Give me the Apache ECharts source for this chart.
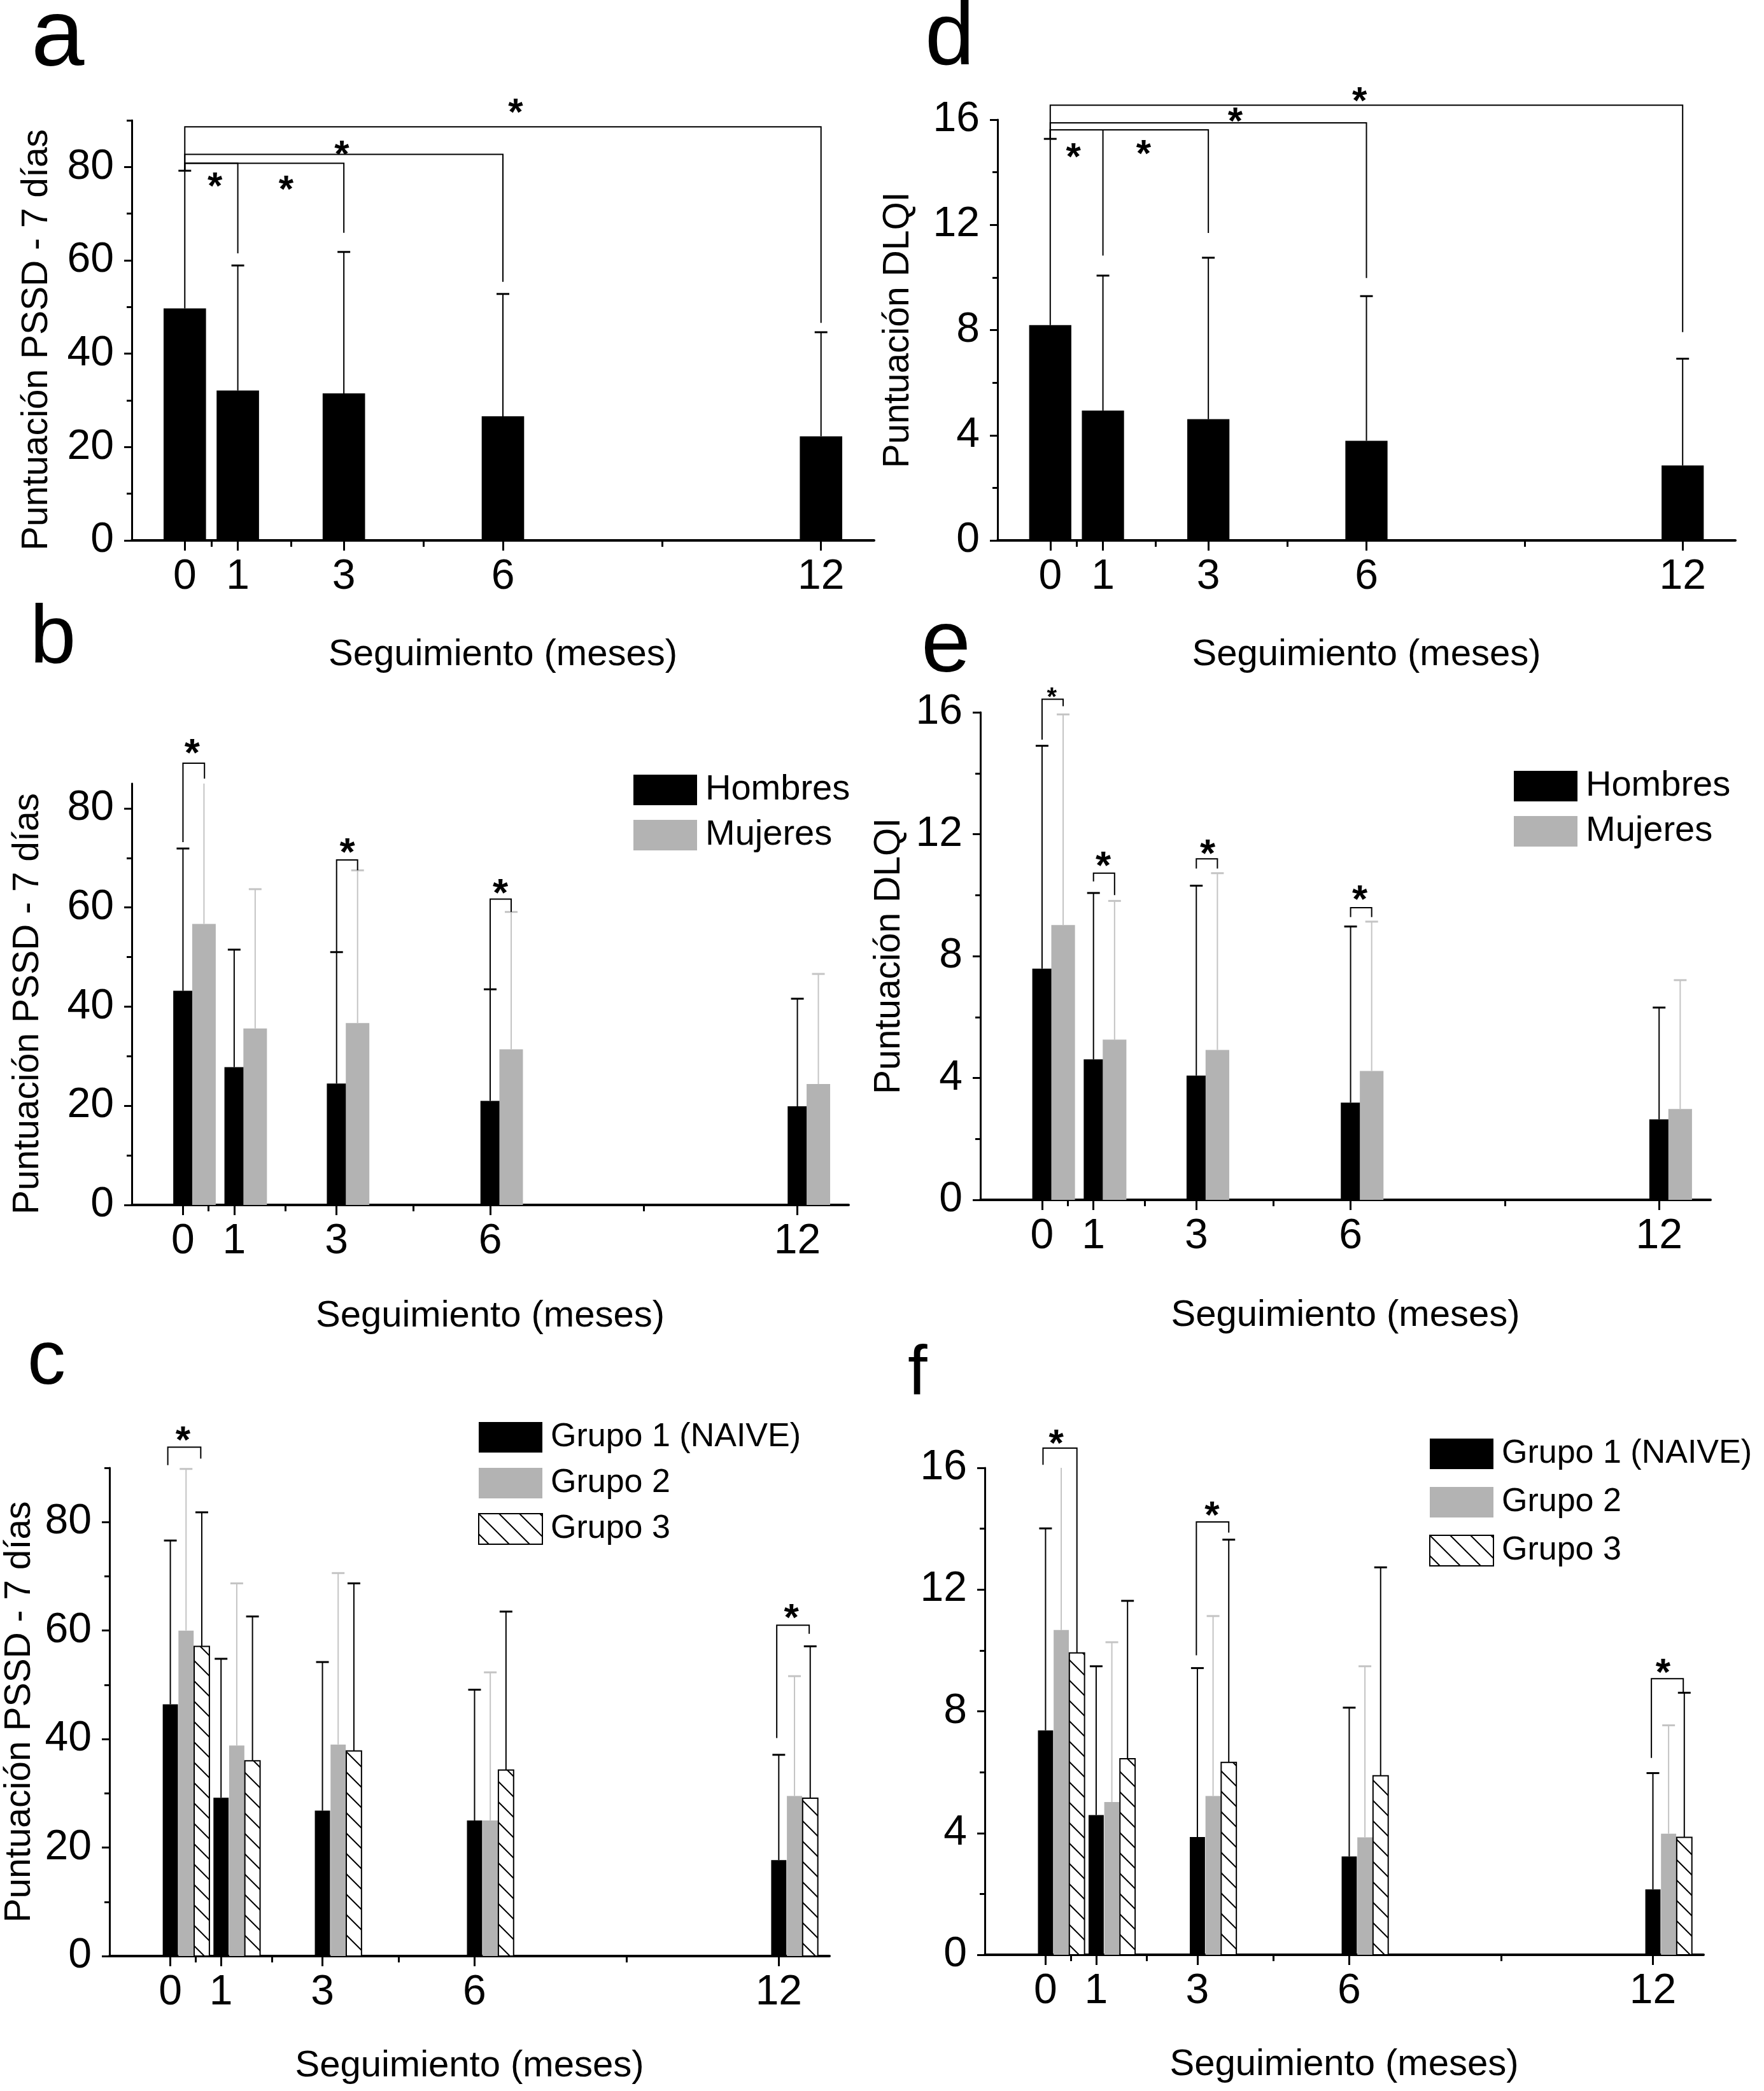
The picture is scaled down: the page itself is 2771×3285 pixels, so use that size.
<!DOCTYPE html>
<html>
<head>
<meta charset="utf-8">
<title>PSSD y DLQI - seguimiento</title>
<script src="https://cdn.jsdelivr.net/npm/echarts@6.0.0/dist/echarts.min.js"></script>
<style>
  html, body { margin: 0; padding: 0; background: #fff; }
  #chart { width: 2771px; height: 3285px; }
</style>
</head>
<body>
<div id="chart"></div>
<script>
// meses de seguimiento
var months = [0, 1, 3, 6, 12];
var monthTicks = [0, 1, 3, 6, 12];
var monthMinorTicks = [0.5, 2, 4.5, 9];

// ejes Y
var pssdTicks = [0, 20, 40, 60, 80];
var pssdMinorTicks = [10, 30, 50, 70, 90];
var pssdMinorTicksB = [10, 30, 50, 70];
var dlqiTicks = [0, 4, 8, 12, 16];
var dlqiMinorTicks = [2, 6, 10, 14];

// a: PSSD total (media, DE)
var pssdMean = [49.7, 32.1, 31.5, 26.6, 22.3];
var pssdSD = [29.5, 26.8, 30.3, 26.2, 22.3];
// d: DLQI total
var dlqiMean = [8.19, 4.94, 4.61, 3.79, 2.85];
var dlqiSD = [7.08, 5.13, 6.14, 5.5, 4.06];

// b: PSSD por sexo
var pssdHombres = [43.2, 27.8, 24.5, 21.0, 19.9];
var pssdHombresSD = [28.7, 23.7, 26.5, 22.5, 21.7];
var pssdMujeres = [56.7, 35.6, 36.7, 31.4, 24.4];
var pssdMujeresSD = [30.3, 28.1, 30.8, 27.7, 22.2];
// e: DLQI por sexo
var dlqiHombres = [7.59, 4.61, 4.08, 3.19, 2.64];
var dlqiHombresSD = [7.31, 5.46, 6.23, 5.78, 3.67];
var dlqiMujeres = [9.02, 5.26, 4.92, 4.23, 2.98];
var dlqiMujeresSD = [6.91, 4.55, 5.8, 4.9, 4.23];

// c: PSSD por grupo
var pssdG1 = [46.4, 29.2, 26.8, 25.0, 17.7];
var pssdG1SD = [30.2, 25.6, 27.4, 24.1, 19.4];
var pssdG2 = [60.0, 38.8, 39.0, 25.0, 29.5];
var pssdG2SD = [29.8, 29.9, 31.6, 27.3, 22.1];
var pssdG3 = [57.1, 36.0, 37.8, 34.3, 29.1];
var pssdG3SD = [24.7, 26.6, 30.9, 29.2, 28.0];
// f: DLQI por grupo
var dlqiG1 = [7.37, 4.59, 3.87, 3.23, 2.15];
var dlqiG1SD = [6.64, 4.89, 5.55, 4.89, 3.82];
var dlqiG2 = [10.67, 5.02, 5.22, 3.86, 3.98];
var dlqiG2SD = [5.83, 5.25, 5.91, 5.62, 3.56];
var dlqiG3 = [9.92, 6.44, 6.32, 5.88, 3.86];
var dlqiG3SD = [6.58, 5.19, 7.32, 6.85, 4.75];

// comparaciones significativas: [x1, x2, altura, fin izq, fin der]
var bracketsA = [[0, 1, 80.8, 79.2, 61.5], [0, 3, 80.8, 79.2, 65.9], [0, 6, 82.7, 79.2, 55.4], [0, 12, 88.6, 79.2, 46.6]];
var starsA = [[0.57, 77.5], [1.91, 76.8], [2.96, 84.4], [6.24, 93.3]];
var bracketsD = [[0, 1, 15.61, 15.27, 10.83], [0, 3, 15.61, 15.27, 11.69], [0, 6, 15.88, 15.27, 9.98], [0, 12, 16.55, 15.27, 7.92]];
var starsD = [[0.44, 14.88], [1.77, 15.0], [3.51, 16.23], [5.87, 17.0]];
var bracketsB = [[0, 0.42, 89.1, 73.2, 86.0], [3, 3.41, 69.6, 51.0, 67.5], [6, 6.41, 61.7, 43.5, 59.1]];
var starsB = [[0.18, 92.8], [3.21, 72.8], [6.2, 64.5]];
var bracketsE = [[0, 0.41, 16.43, 15.1, 16.2], [1, 1.41, 10.72, 10.45, 10.0], [3, 3.41, 11.19, 10.87, 10.87], [6, 6.41, 9.59, 9.28, 9.28]];
var starsE = [[1.19, 11.23], [3.22, 11.63], [6.18, 10.13]];
var starsESmall = [[0.19, 16.67]];
var bracketsC = [[-0.05, 0.6, 93.8, 90.5, 91.7], [11.96, 12.6, 61.0, 40.2, 59.4]];
var starsC = [[0.25, 96.5], [12.25, 63.8]];
var bracketsF = [[-0.05, 0.62, 16.65, 16.1, 16.0], [2.98, 3.62, 14.22, 9.84, 13.87], [11.97, 12.6, 9.07, 6.47, 8.59]];
var starsF = [[0.21, 17.05], [3.29, 14.7], [12.2, 9.53]];

var FONT = 'Liberation Sans, Arial, sans-serif';
var GRAY = '#b3b3b3';
var ERR_GRAY = '#c4c4c4';

// trama rayada para el grupo 3
function makeHatch() {
    var c = document.createElement('canvas');
    c.width = 32; c.height = 32;
    var ctx = c.getContext('2d');
    ctx.fillStyle = '#fff';
    ctx.fillRect(0, 0, 32, 32);
    ctx.strokeStyle = '#000';
    ctx.lineWidth = 2;
    ctx.beginPath();
    ctx.moveTo(-4, -4); ctx.lineTo(36, 36);
    ctx.moveTo(-4, 28); ctx.lineTo(4, 36);
    ctx.moveTo(28, -4); ctx.lineTo(36, 4);
    ctx.stroke();
    return { image: c, repeat: 'repeat' };
}
var HATCH = makeHatch();

function toData(mean, sd) {
    var out = [];
    for (var i = 0; i < months.length; i++) {
        out.push([months[i], mean[i], sd[i]]);
    }
    return out;
}

// barra + barra de error superior
function barSeries(name, idx, mean, sd, offset, width, fill, border, errColor) {
    return {
        type: 'custom',
        name: name,
        xAxisIndex: idx * 2,
        yAxisIndex: idx * 2,
        clip: true,
        itemStyle: { color: fill },
        data: toData(mean, sd),
        renderItem: function (params, api) {
            var x = api.value(0) + offset;
            var y = api.value(1);
            var top = y + api.value(2);
            var p0 = api.coord([x - width / 2, y]);
            var p1 = api.coord([x + width / 2, 0]);
            var pc = api.coord([x, y]);
            var pe = api.coord([x, top]);
            var rectStyle = { fill: fill };
            if (border) { rectStyle.stroke = '#000'; rectStyle.lineWidth = 2; }
            return {
                type: 'group',
                children: [
                    { type: 'rect', shape: { x: p0[0], y: p0[1], width: p1[0] - p0[0], height: p1[1] - p0[1] }, style: rectStyle },
                    { type: 'line', shape: { x1: pc[0], y1: pc[1], x2: pe[0], y2: pe[1] }, style: { stroke: errColor, lineWidth: 2 } },
                    { type: 'line', shape: { x1: pe[0] - 10, y1: pe[1], x2: pe[0] + 10, y2: pe[1] }, style: { stroke: errColor, lineWidth: 3 } }
                ]
            };
        }
    };
}

function bracketSeries(idx, data) {
    return {
        type: 'custom',
        xAxisIndex: idx * 2,
        yAxisIndex: idx * 2,
        encode: { x: [0, 1], y: [2, 3, 4] },
        data: data,
        renderItem: function (params, api) {
            var x1 = api.value(0), x2 = api.value(1), yt = api.value(2);
            var pts = [api.coord([x1, api.value(3)]), api.coord([x1, yt]), api.coord([x2, yt]), api.coord([x2, api.value(4)])];
            return { type: 'polyline', shape: { points: pts }, style: { stroke: '#000', lineWidth: 2, fill: null } };
        }
    };
}

function starSeries(idx, data, size) {
    return {
        type: 'custom',
        xAxisIndex: idx * 2,
        yAxisIndex: idx * 2,
        data: data,
        renderItem: function (params, api) {
            var p = api.coord([api.value(0), api.value(1)]);
            return {
                type: 'text',
                x: p[0],
                y: p[1] + size * 0.25,
                style: { text: '*', fontSize: size, fontWeight: 'bold', fontFamily: FONT, fill: '#000', align: 'center', verticalAlign: 'middle' }
            };
        }
    };
}

// rejillas: a, d, b, e, c, f
var grids = [
    { left: 207, top: 189, width: 1166, height: 660 },
    { left: 1567, top: 188, width: 1159, height: 661 },
    { left: 207, top: 1231, width: 1126, height: 662 },
    { left: 1540, top: 1119, width: 1147, height: 766 },
    { left: 172, top: 2306, width: 1131, height: 767 },
    { left: 1547, top: 2306, width: 1129, height: 765 }
];
var xMins = [-1, -1, -1, -1.2, -1.2, -1.2];
var xNameGaps = [151, 151, 146, 153, 144, 144];
var yMaxes = [90, 16, 85, 16, 90, 16];
var yMajor = [pssdTicks, dlqiTicks, pssdTicks, dlqiTicks, pssdTicks, dlqiTicks];
var yMinor = [pssdMinorTicks, dlqiMinorTicks, pssdMinorTicksB, dlqiMinorTicks, pssdMinorTicks, dlqiMinorTicks];
var yNames = ['Puntuación PSSD - 7 días', 'Puntuación DLQI', 'Puntuación PSSD - 7 días', 'Puntuación DLQI', 'Puntuación PSSD - 7 días', ''];
var yNameGaps = [120, 127, 134, 114, 112, 100];
var yNamePads = [[0, 30, 0, 0], [0, 0, 0, 0], [0, 30, 0, 0], [0, 0, 0, 0], [0, 0, 0, 0], [0, 0, 0, 0]];

var xAxes = [], yAxes = [];
for (var g = 0; g < 6; g++) {
    xAxes.push({
        type: 'value', gridIndex: g, min: xMins[g], max: 13, position: 'bottom',
        axisLine: { show: true, onZero: false, lineStyle: { color: '#000', width: 4 } },
        axisTick: { show: true, customValues: monthTicks, length: 16, lineStyle: { color: '#000', width: 3 } },
        axisLabel: { customValues: monthTicks, fontSize: 66, fontFamily: FONT, color: '#000', margin: 25 },
        splitLine: { show: false },
        name: 'Seguimiento (meses)', nameLocation: 'middle', nameGap: xNameGaps[g],
        nameTextStyle: { fontSize: 58, fontFamily: FONT, color: '#000' }
    });
    xAxes.push({
        type: 'value', gridIndex: g, min: xMins[g], max: 13, position: 'bottom', offset: 0,
        axisLine: { show: false, onZero: false },
        axisTick: { show: true, customValues: monthMinorTicks, length: 10, lineStyle: { color: '#000', width: 3 } },
        axisLabel: { show: false },
        splitLine: { show: false }
    });
    yAxes.push({
        type: 'value', gridIndex: g, min: 0, max: yMaxes[g], position: 'left',
        axisLine: { show: true, onZero: false, lineStyle: { color: '#000', width: 3 } },
        axisTick: { show: true, customValues: yMajor[g], length: 12, lineStyle: { color: '#000', width: 3 } },
        axisLabel: { customValues: yMajor[g], fontSize: 66, fontFamily: FONT, color: '#000', margin: 28 },
        splitLine: { show: false },
        name: yNames[g], nameLocation: 'middle', nameGap: yNameGaps[g],
        nameTextStyle: { fontSize: 57, fontFamily: FONT, color: '#000', padding: yNamePads[g] }
    });
    yAxes.push({
        type: 'value', gridIndex: g, min: 0, max: yMaxes[g], position: 'left', offset: 0,
        axisLine: { show: false, onZero: false },
        axisTick: { show: true, customValues: yMinor[g], length: 8, lineStyle: { color: '#000', width: 3 } },
        axisLabel: { show: false },
        splitLine: { show: false }
    });
}

var series = [
    // a
    barSeries('PSSD', 0, pssdMean, pssdSD, 0, 0.8, '#000', false, '#000'),
    bracketSeries(0, bracketsA), starSeries(0, starsA, 60),
    // d
    barSeries('DLQI', 1, dlqiMean, dlqiSD, 0, 0.8, '#000', false, '#000'),
    bracketSeries(1, bracketsD), starSeries(1, starsD, 60),
    // b
    barSeries('Hombres', 2, pssdHombres, pssdHombresSD, 0, 0.38, '#000', false, '#000'),
    barSeries('Mujeres', 2, pssdMujeres, pssdMujeresSD, 0.41, 0.46, GRAY, false, ERR_GRAY),
    bracketSeries(2, bracketsB), starSeries(2, starsB, 62),
    // e
    barSeries('Hombres', 3, dlqiHombres, dlqiHombresSD, 0, 0.38, '#000', false, '#000'),
    barSeries('Mujeres', 3, dlqiMujeres, dlqiMujeresSD, 0.41, 0.46, GRAY, false, ERR_GRAY),
    bracketSeries(3, bracketsE), starSeries(3, starsE, 62), starSeries(3, starsESmall, 40),
    // c
    barSeries('Grupo 1 (NAIVE)', 4, pssdG1, pssdG1SD, 0, 0.3, '#000', false, '#000'),
    barSeries('Grupo 2', 4, pssdG2, pssdG2SD, 0.31, 0.3, GRAY, false, ERR_GRAY),
    barSeries('Grupo 3', 4, pssdG3, pssdG3SD, 0.62, 0.3, HATCH, true, '#000'),
    bracketSeries(4, bracketsC), starSeries(4, starsC, 60),
    // f
    barSeries('Grupo 1 (NAIVE)', 5, dlqiG1, dlqiG1SD, 0, 0.3, '#000', false, '#000'),
    barSeries('Grupo 2', 5, dlqiG2, dlqiG2SD, 0.31, 0.3, GRAY, false, ERR_GRAY),
    barSeries('Grupo 3', 5, dlqiG3, dlqiG3SD, 0.62, 0.3, HATCH, true, '#000'),
    bracketSeries(5, bracketsF), starSeries(5, starsF, 60)
];

function legendAt(left, top, items, fontSize, gap) {
    return {
        orient: 'vertical', left: left, top: top, padding: 0,
        itemWidth: 100, itemHeight: 48, itemGap: gap, icon: 'rect', selectedMode: false,
        itemStyle: { borderWidth: 0 },
        textStyle: { fontSize: fontSize, fontFamily: FONT, color: '#000', lineHeight: 48, padding: [0, 0, 0, 8] },
        data: items
    };
}
var sexItems = [{ name: 'Hombres', itemStyle: { color: '#000' } }, { name: 'Mujeres', itemStyle: { color: GRAY } }];
var groupItems = [
    { name: 'Grupo 1 (NAIVE)', itemStyle: { color: '#000' } },
    { name: 'Grupo 2', itemStyle: { color: GRAY } },
    { name: 'Grupo 3', itemStyle: { color: HATCH, borderColor: '#000', borderWidth: 2 } }
];

function letter(txt, x, baseline, size) {
    return {
        type: 'text', x: x, y: baseline + size * 0.21,
        style: { text: txt, fontSize: size, fontFamily: FONT, fill: '#000', align: 'left', verticalAlign: 'bottom' }
    };
}

var myChart = echarts.init(document.getElementById('chart'), null, { renderer: 'canvas' });
var option = {
    backgroundColor: '#fff',
    animation: false,
    grid: grids,
    xAxis: xAxes,
    yAxis: yAxes,
    legend: [
        legendAt(995, 1213, sexItems, 56, 15),
        legendAt(2378, 1207, sexItems, 56, 15),
        legendAt(751, 2232, groupItems, 52, 20),
        legendAt(2245, 2258, groupItems, 52, 24)
    ],
    graphic: [
        letter('a', 49, 105, 150),
        letter('d', 1453, 103, 140),
        letter('b', 47, 1043, 130),
        letter('e', 1447, 1057, 140),
        letter('c', 43, 2176, 120),
        letter('f', 1426, 2192, 110)
    ],
    series: series
};
myChart.setOption(option);
</script>
</body>
</html>
